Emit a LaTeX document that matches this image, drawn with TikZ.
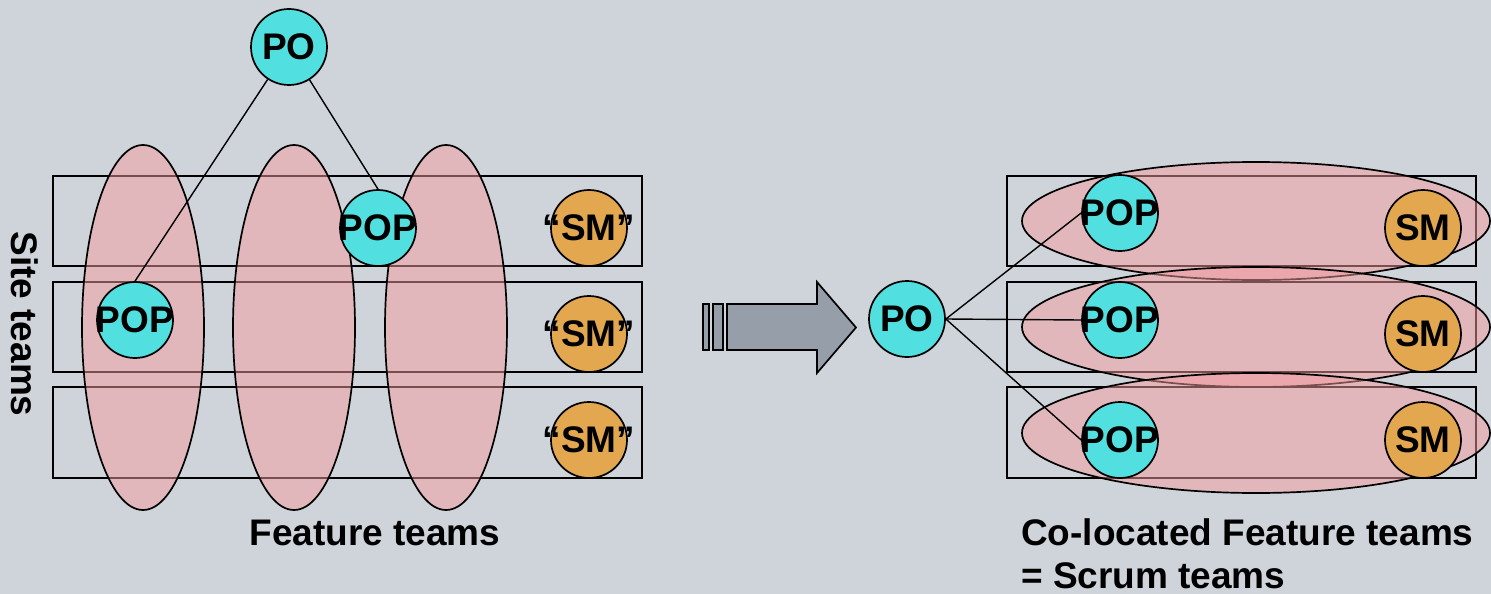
\documentclass[tikz,border=0pt]{standalone}
\usepackage{fontspec}
\setmainfont{Liberation Sans}
\newcommand\zw[1]{\makebox[0pt]{#1}}
\definecolor{bgc}{RGB}{207,212,219}
\definecolor{cyanc}{RGB}{82,223,224}
\definecolor{orangec}{RGB}{226,167,79}
\definecolor{pinkc}{RGB}{245,155,158}
\definecolor{arrowc}{RGB}{150,158,170}
\tikzset{
  lw/.style={line width=1.7pt},
  person/.style={circle, draw, lw, minimum size=76pt, inner sep=0pt,
    font=\fontsize{37}{40}\selectfont\bfseries},
  po/.style={person, fill=cyanc},
  sm/.style={person, fill=orangec},
  site/.style={draw, lw},
  team/.style={draw, lw, fill=pinkc, fill opacity=0.5},
  link/.style={draw, line width=1.4pt},
  caption/.style={font=\fontsize{37}{43}\selectfont\bfseries, inner sep=0pt},
}
\begin{document}
\begin{tikzpicture}[x=1pt, y=-1pt]
\fill[bgc] (0,0) rectangle (1491,594);
\useasboundingbox (0,0) rectangle (1491,594);

% ---- left: site teams crossed by feature teams ----
\draw[site] (53,176) rectangle (642,266);
\draw[site] (53,282) rectangle (642,372);
\draw[site] (53,387) rectangle (642,478);

\draw[team] (143,327.5) ellipse [x radius=61pt, y radius=182.5pt];
\draw[team] (294,327.5) ellipse [x radius=61pt, y radius=182.5pt];
\draw[team] (446,327.5) ellipse [x radius=61pt, y radius=182.5pt];

\node[po] (poA) at (289,47) {\zw{PO}};
\node[po] (popA1) at (378,228) {\zw{POP}};
\node[po] (popA2) at (135,320) {\zw{POP}};
\node[sm] (smA1) at (589,228) {\zw{“SM”}};
\node[sm] (smA2) at (589,334) {\zw{“SM”}};
\node[sm] (smA3) at (589,440) {\zw{“SM”}};

\draw[link] (poA) -- (popA2.north);
\draw[link] (poA) -- (popA1.north);

\node[caption, rotate=-90] (siteLbl) at (25,324) {Site teams};
\node[caption, anchor=base] (featLbl) at (375,545) {Feature teams};

% ---- transition arrow ----
\filldraw[fill=arrowc, lw] (703,304) rectangle (709,350);
\filldraw[fill=arrowc, lw] (713,304) rectangle (723,350);
\filldraw[fill=arrowc, lw, line join=miter]
  (727,304) -- (817,304) -- (817,282) -- (856,327.5) -- (817,373)
  -- (817,350) -- (727,350) -- cycle;

% ---- right: co-located feature teams ----
\draw[site] (1007,176) rectangle (1476,266);
\draw[site] (1007,282) rectangle (1476,372);
\draw[site] (1007,387) rectangle (1476,478);

\draw[team] (1256,221) ellipse [x radius=234pt, y radius=59pt];
\draw[team] (1256,327) ellipse [x radius=234pt, y radius=60pt];
\draw[team] (1256,433) ellipse [x radius=234pt, y radius=60pt];

\node[po] (poB) at (907,319) {\zw{PO}};
\node[po] (popB1) at (1120,213) {\zw{POP}};
\node[po] (popB2) at (1120,320) {\zw{POP}};
\node[po] (popB3) at (1120,440) {\zw{POP}};
\node[sm] (smB1) at (1423,228) {\zw{SM}};
\node[sm] (smB2) at (1423,334) {\zw{SM}};
\node[sm] (smB3) at (1423,440) {\zw{SM}};

\draw[link] (poB.east) -- (popB1.west);
\draw[link] (poB.east) -- (popB2.west);
\draw[link] (poB.east) -- (popB3.west);

\node[caption, anchor=base west] (colLbl1) at (1021,545) {Co-located Feature teams};
\node[caption, anchor=base west] (colLbl2) at (1021,588) {= Scrum teams};
\end{tikzpicture}
\end{document}
